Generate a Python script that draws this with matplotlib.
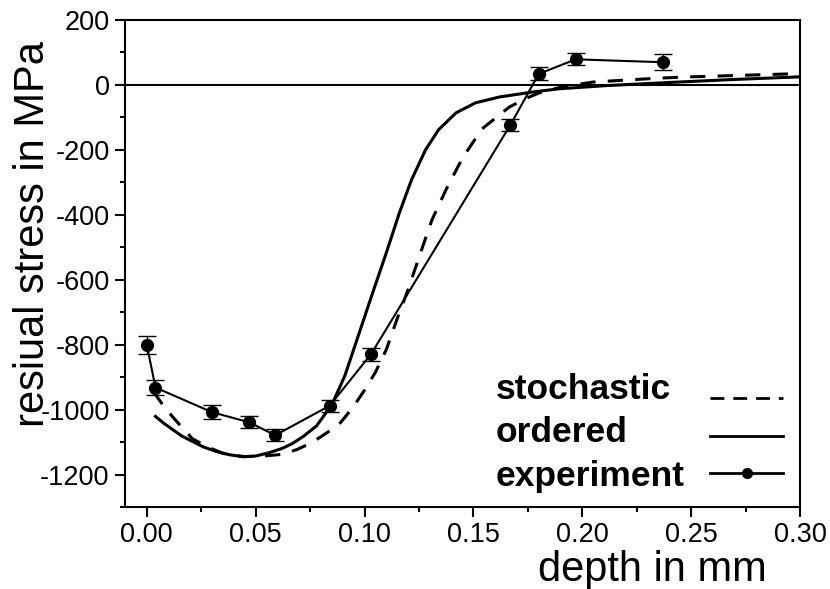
import matplotlib
matplotlib.use("Agg")
import matplotlib.pyplot as plt
from matplotlib.lines import Line2D

plt.rcParams["font.family"] = ["Liberation Sans", "DejaVu Sans"]
plt.rcParams["axes.unicode_minus"] = False

# experiment (measured points with error bars)
exp_depth = [0.000, 0.004, 0.030, 0.047, 0.059, 0.084, 0.103, 0.167, 0.180, 0.197, 0.237]
exp_stress = [-800, -932, -1008, -1039, -1079, -988, -829, -123, 34, 79, 70]
exp_err = [28, 22, 22, 19, 19, 19, 20, 19, 20, 19, 25]

# ordered model
ord_depth = [0.004, 0.008, 0.012, 0.016, 0.021, 0.026, 0.032, 0.038, 0.044, 0.050,
             0.056, 0.062, 0.067, 0.072, 0.078, 0.085, 0.091, 0.097, 0.1035, 0.110,
             0.116, 0.1216, 0.128, 0.134, 0.142, 0.151, 0.162, 0.177, 0.189, 0.211,
             0.241, 0.270, 0.300]
ord_stress = [-1021, -1043, -1062, -1081, -1098, -1115, -1129, -1139, -1145, -1143,
              -1133, -1120, -1104, -1082, -1050, -985, -895, -775, -645, -517,
              -394, -292, -200, -138, -86, -55, -37, -22, -12, -2,
              8, 17, 25]

# stochastic model
sto_depth = [0.003, 0.009, 0.015, 0.021, 0.028, 0.035, 0.045, 0.055, 0.062, 0.069,
             0.076, 0.083, 0.089, 0.095, 0.100, 0.105, 0.110, 0.115, 0.120, 0.1266,
             0.131, 0.1376, 0.145, 0.154, 0.1665, 0.174, 0.180, 0.190, 0.205, 0.235,
             0.250, 0.265, 0.280, 0.300]
sto_stress = [-945, -1000, -1046, -1090, -1115, -1135, -1145, -1142, -1138, -1123,
              -1101, -1070, -1040, -990, -940, -885, -815, -720, -630, -500,
              -415, -320, -225, -135, -68, -42, -25, -7, 9, 21,
              25, 28, 31, 35]

legend_labels = ["stochastic", "ordered", "experiment"]

fig = plt.figure(figsize=(8.30, 5.89), dpi=100)
ax = fig.add_axes([0.1506, 0.1392, 0.8133, 0.8268])

ax.axhline(0, color="black", linewidth=1.5, zorder=1)
ax.plot(sto_depth, sto_stress, color="black", linewidth=2.2, linestyle=(0, (5, 4)))
ax.plot(ord_depth, ord_stress, color="black", linewidth=2.2)
ax.errorbar(exp_depth, exp_stress, yerr=exp_err, color="black", linewidth=1.5,
            marker="o", markersize=8.5, ecolor="black", elinewidth=1,
            capsize=6.5, capthick=1)

ax.set_xlim(-0.01, 0.30)
ax.set_ylim(-1300, 200)
xt = [0.00, 0.05, 0.10, 0.15, 0.20, 0.25, 0.30]
ax.set_xticks(xt)
ax.set_xticklabels([f"{v:.2f}" for v in xt])
ax.set_xticks([0.025, 0.075, 0.125, 0.175, 0.225, 0.275], minor=True)
ax.set_yticks(range(-1200, 201, 200))
ax.set_yticks(range(-1300, 201, 100), minor=True)

for s in ax.spines.values():
    s.set_linewidth(1.5)
ax.tick_params(which="major", direction="out", length=7, width=1.5,
               labelsize=19.5, pad=4)
ax.tick_params(which="minor", direction="out", length=3.6, width=1.5)

ax.set_xlabel("depth in mm", fontsize=30)
ax.xaxis.set_label_coords(0.781, -0.088)
ax.set_ylabel("resiual stress in MPa", fontsize=30)
ax.yaxis.set_label_coords(-0.107, 0.56)

# legend: labels left-aligned in one column, line samples in a column to the right
lw_kw = dict(frameon=False, loc="lower left", borderpad=0, borderaxespad=0,
             prop=dict(weight="bold", size=25.5))
blank = [Line2D([], [], linestyle="none") for _ in legend_labels]
leg1 = ax.legend(blank, legend_labels, bbox_to_anchor=(0.5496, 0.029),
                 handlelength=0, handletextpad=0, labelspacing=0.3, **lw_kw)
ax.add_artist(leg1)

handles = [
    Line2D([], [], color="black", linewidth=2, linestyle=(0, (5, 3.2))),
    Line2D([], [], color="black", linewidth=2),
    Line2D([], [], color="black", linewidth=2, marker="o", markersize=7),
]
ax.legend(handles, ["", "", ""], bbox_to_anchor=(0.8667, 0.029),
          handlelength=2.06, handletextpad=0, labelspacing=0.14, **lw_kw)

fig.savefig("out.png", dpi=100)
